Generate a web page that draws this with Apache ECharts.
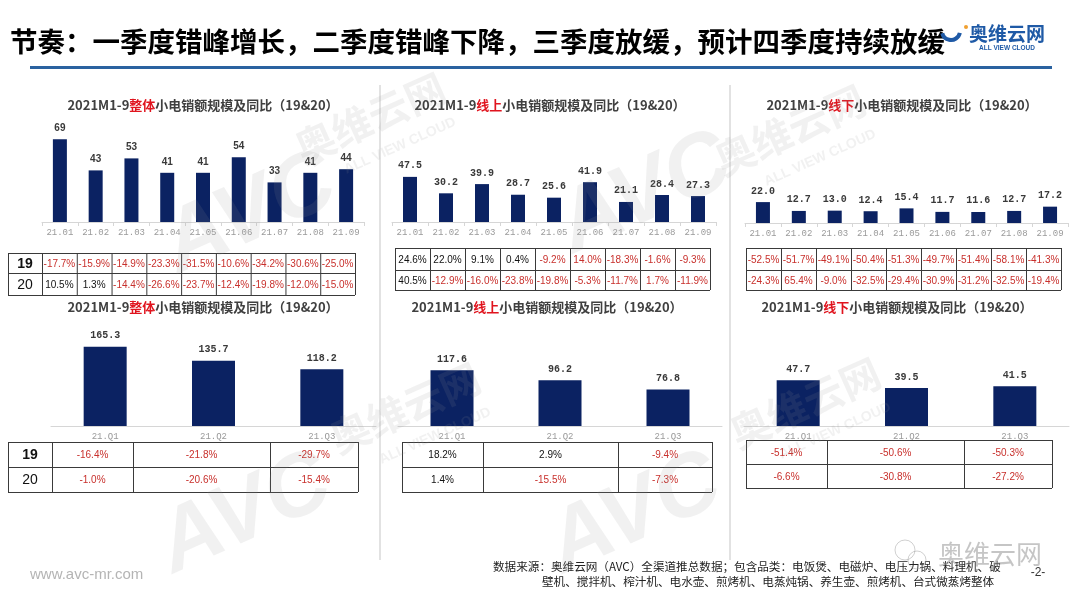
<!DOCTYPE html>
<html><head><meta charset="utf-8">
<script src="https://cdn.jsdelivr.net/npm/echarts@6/dist/echarts.min.js"></script>
<style>html,body{margin:0;padding:0;background:#fff}#c{width:1080px;height:608px}</style>
</head><body><div id="c"></div>
<script>
// ---------- data ----------
const monthCats = ['21.01','21.02','21.03','21.04','21.05','21.06','21.07','21.08','21.09'];
const quarterCats = ['21.Q1','21.Q2','21.Q3'];
const yearLabels = ['19','20'];

const totalMonthly   = [69,43,53,41,41,54,33,41,44];
const onlineMonthly  = [47.5,30.2,39.9,28.7,25.6,41.9,21.1,28.4,27.3];
const offlineMonthly = [22.0,12.7,13.0,12.4,15.4,11.7,11.6,12.7,17.2];

const totalMonthlyYoY19   = [-17.7,-15.9,-14.9,-23.3,-31.5,-10.6,-34.2,-30.6,-25.0];
const totalMonthlyYoY20   = [10.5,1.3,-14.4,-26.6,-23.7,-12.4,-19.8,-12.0,-15.0];
const onlineMonthlyYoY19  = [24.6,22.0,9.1,0.4,-9.2,14.0,-18.3,-1.6,-9.3];
const onlineMonthlyYoY20  = [40.5,-12.9,-16.0,-23.8,-19.8,-5.3,-11.7,1.7,-11.9];
const offlineMonthlyYoY19 = [-52.5,-51.7,-49.1,-50.4,-51.3,-49.7,-51.4,-58.1,-41.3];
const offlineMonthlyYoY20 = [-24.3,65.4,-9.0,-32.5,-29.4,-30.9,-31.2,-32.5,-19.4];

const totalQuarterly   = [165.3,135.7,118.2];
const onlineQuarterly  = [117.6,96.2,76.8];
const offlineQuarterly = [47.7,39.5,41.5];
const totalQuarterlyYoY19   = [-16.4,-21.8,-29.7];
const totalQuarterlyYoY20   = [-1.0,-20.6,-15.4];
const onlineQuarterlyYoY19  = [18.2,2.9,-9.4];
const onlineQuarterlyYoY20  = [1.4,-15.5,-7.3];
const offlineQuarterlyYoY19 = [-51.4,-50.6,-50.3];
const offlineQuarterlyYoY20 = [-6.6,-30.8,-27.2];

const mainTitle = '节奏：一季度错峰增长，二季度错峰下降，三季度放缓，预计四季度持续放缓';
const chartTitlePre = '2021M1-9', chartTitlePost = '小电销额规模及同比（19&20）';
const channelNames = ['整体','线上','线下'];
const sourceLine1 = '数据来源：奥维云网（AVC）全渠道推总数据；包含品类：电饭煲、电磁炉、电压力锅、料理机、破';
const sourceLine2 = '壁机、搅拌机、榨汁机、电水壶、煎烤机、电蒸炖锅、养生壶、煎烤机、台式微蒸烤整体';

// ---------- styles ----------
const NAVY = '#0b2262', RED = '#c8302c', GRAYAX = '#d6d6d6';
const CJK = '"Noto Sans CJK SC"';
const chart = echarts.init(document.getElementById('c'));

const grids = [
  {left:42, top:102, width:322, height:120},
  {left:392, top:127, width:324, height:95},
  {left:745, top:128, width:323, height:95},
  {left:51, top:330, width:325, height:96},
  {left:398, top:331, width:324, height:95},
  {left:744, top:330, width:325, height:96}
];
const yMax = [100,100,100,200,200,100];
const seriesData = [totalMonthly,onlineMonthly,offlineMonthly,totalQuarterly,onlineQuarterly,offlineQuarterly];

const xAxes = grids.map((g,i)=>({
  type:'category', gridIndex:i, data: i<3?monthCats:quarterCats,
  axisLine:{lineStyle:{color:GRAYAX}},
  axisTick:{show:i<3, length:4, lineStyle:{color:GRAYAX}},
  axisLabel:{interval:0, hideOverlap:false, color:'#9a9a9a', fontFamily:'"Liberation Mono"', fontSize:9, margin:6}
}));
const yAxes = grids.map((g,i)=>({type:'value', gridIndex:i, min:0, max:yMax[i], show:false, splitLine:{show:false}}));
const series = seriesData.map((d,i)=>({
  type:'bar', xAxisIndex:i, yAxisIndex:i, data:d, barWidth: i<3?14:43,
  itemStyle:{color:NAVY},
  label:{show:true, position:'top', distance:6, color:'#3a3a3a', fontWeight:'bold',
    fontFamily: i===0?'"Liberation Sans"':'"Liberation Mono"', fontSize: 10,
    formatter: p => i===0 ? String(p.value) : p.value.toFixed(1)}
}));

// ---------- graphics ----------
const G = [];
function txt(x,y,text,font,fill,align,extra){
  const o = {type:'text', x, y, z:20, style:Object.assign({text, font, fill,
    align:align||'center', textAlign:align||'center', verticalAlign:'middle', textVerticalAlign:'middle'}, extra||{})};
  G.push(o); return o;
}
function line(x1,y1,x2,y2,stroke,w,z){
  G.push({type:'line', z:z||15, shape:{x1,y1,x2,y2}, style:{stroke, lineWidth:w||1}});
}
// main title + rule
txt(10,42,mainTitle,'bold 27.5px '+CJK,'#000','left');
line(30,67.5,1052,67.5,'#2a62a0',3);
// logo
G.push({type:'rect', z:25, shape:{x:962, y:24, width:90, height:30}, style:{fill:'#fff'}});
G.push({type:'arc', z:30, shape:{cx:951, cy:31, r:9, startAngle:0.2, endAngle:2.9}, style:{stroke:'#1f5aa6', lineWidth:4, fill:null}});
G.push({type:'circle', z:30, shape:{cx:966, cy:27, r:2}, style:{fill:'#f0a030'}});
txt(1007,34,'奥维云网','bold 19px '+CJK,'#1f5aa6').z = 30;
txt(1007,48,'ALL VIEW CLOUD','bold 6.5px "Liberation Sans"','#1f5aa6').z = 30;
// separators
line(380,85,380,560,'#d9d9d9',1.5,1);
line(730,85,730,560,'#d9d9d9',1.5,1);
// chart titles
const titlePos = [[203,105],[550,105],[902,105],[203,307],[547,307],[897,307]];
titlePos.forEach((p,i)=>{
  G.push({type:'text', x:p[0], y:p[1], z:20, style:{
    text:'{a|'+chartTitlePre+'}{r|'+channelNames[i%3]+'}{a|'+chartTitlePost+'}',
    align:'center', verticalAlign:'middle', textAlign:'center', textVerticalAlign:'middle',
    rich:{a:{fontFamily:CJK, fontSize:13, fontWeight:'bold', fill:'#404040', color:'#404040'},
          r:{fontFamily:CJK, fontSize:13, fontWeight:'bold', fill:'#e0141e', color:'#e0141e'}}}});
});
// tables
function table(colEdges, rowEdges, header, rows, redFn){
  const x0 = colEdges[0], x1 = colEdges[colEdges.length-1];
  G.push({type:'rect', z:12, shape:{x:x0, y:rowEdges[0], width:x1-x0, height:rowEdges[rowEdges.length-1]-rowEdges[0]}, style:{fill:'#fff'}});
  rowEdges.forEach(y=>line(x0,y+0.5,x1,y+0.5,'#3a3a3a',1));
  colEdges.forEach(x=>line(x+0.5,rowEdges[0],x+0.5,rowEdges[rowEdges.length-1],'#3a3a3a',1));
  const off = header?1:0;
  rows.forEach((vals,r)=>{
    const cy = (rowEdges[r]+rowEdges[r+1])/2+1;
    if(header) txt((colEdges[0]+colEdges[1])/2, cy, header[r], (r===0?'bold ':'')+'14px "Liberation Sans"', '#111');
    vals.forEach((v,c)=>{
      const cx = (colEdges[c+off]+colEdges[c+off+1])/2;
      txt(cx, cy, v.toFixed(1)+'%', '10px "Liberation Sans"', redFn(v,r,c)?RED:'#111');
    });
  });
}
const even = (a,b,n)=>Array.from({length:n+1},(_,k)=>a+(b-a)*k/n);
const neg = v=>v<0;
table([8].concat(even(42,355,9)), [253,273,295], yearLabels, [totalMonthlyYoY19,totalMonthlyYoY20], neg);
table(even(395,710,9), [248,270,290], null, [onlineMonthlyYoY19,onlineMonthlyYoY20],
  (v,r,c)=> v<0 || (r===0&&c===5) || (r===1&&c===7));
table(even(746,1061,9), [248,270,290], null, [offlineMonthlyYoY19,offlineMonthlyYoY20], ()=>true);
table([8,52,133,270,358], [442,467,492], yearLabels, [totalQuarterlyYoY19,totalQuarterlyYoY20], neg);
table([402,483,618,712], [442,467,492], null, [onlineQuarterlyYoY19,onlineQuarterlyYoY20], neg);
table([746,827,964,1052], [440,464,488], null, [offlineQuarterlyYoY19,offlineQuarterlyYoY20], neg);
// footer
txt(30,575,'www.avc-mr.com','15px "Liberation Sans"','#b4b4b4','left');
txt(493,567,sourceLine1,'11.6px '+CJK,'#222','left');
txt(542,582,sourceLine2,'11.6px '+CJK,'#222','left');
txt(1038,573,'-2-','12px "Liberation Sans"','#333');
G.push({type:'circle', z:60, shape:{cx:905, cy:550, r:10}, style:{fill:null, stroke:'rgba(150,150,150,0.45)', lineWidth:1}});
G.push({type:'circle', z:60, shape:{cx:917, cy:560, r:9}, style:{fill:null, stroke:'rgba(150,150,150,0.45)', lineWidth:1}});
txt(990,554,'奥维云网','26px '+CJK,'rgba(140,140,140,0.5)').z = 60;
// watermarks
const WM = 'rgba(150,150,150,0.13)';
function wm(x,y,text,font,rot){ const o = txt(x,y,text,font,WM); o.rotation = rot; o.z = 50; }
[[370,118],[790,130],[405,408],[805,403]].forEach(p=>{
  wm(p[0],p[1],'奥维云网','bold 40px '+CJK,0.42);
  wm(p[0]+30,p[1]+28,'ALL VIEW CLOUD','bold 14px "Liberation Sans"',0.42);
});
[[250,215],[645,195],[245,515],[635,515]].forEach(p=>wm(p[0],p[1],'AVC','italic bold 88px "Liberation Sans"',0.42));

chart.setOption({
  animation:false,
  grid:grids, xAxis:xAxes, yAxis:yAxes, series:series,
  graphic:{elements:G}
});
</script></body></html>
